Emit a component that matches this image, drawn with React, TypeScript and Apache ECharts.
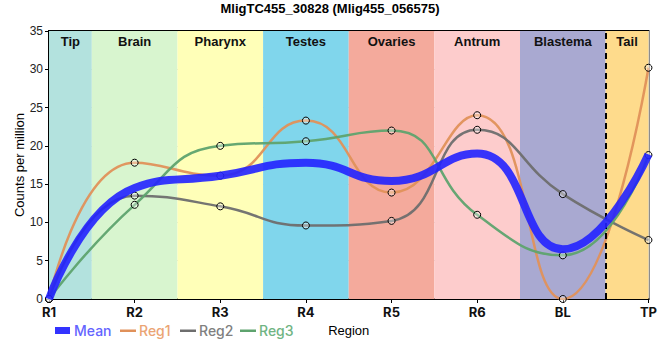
import React, { useEffect, useRef } from "react";
import * as echarts from "echarts";

const categories = ["R1", "R2", "R3", "R4", "R5", "R6", "BL", "TP"];
const reg1 = [0, 17.8, 16.1, 23.3, 13.9, 24.0, 0, 30.2];
const reg2 = [0, 13.5, 12.1, 9.6, 10.2, 22.1, 13.7, 7.7];
const reg3 = [0, 12.3, 20.0, 20.6, 22.0, 11.0, 5.7, 18.8];
const mean = [0, 14.5, 16.1, 17.8, 15.4, 19.0, 6.5, 18.9];
const regions = ["Tip", "Brain", "Pharynx", "Testes", "Ovaries", "Antrum", "Blastema", "Tail"];
const regionStart = [0, 0.5, 1.5, 2.5, 3.5, 4.5, 5.5, 6.5];
const regionEnd = [0.5, 1.5, 2.5, 3.5, 4.5, 5.5, 6.5, 7];
const regionColors = ["#b3e2de", "#d8f5cf", "#ffffb8", "#80d6ec", "#f4aa9c", "#fdcccc", "#a9a9d1", "#fedb8c"];
const seriesNames = ["Mean", "Reg1", "Reg2", "Reg3"];
const seriesColors = ["#2222ff", "#e0915a", "#6e6e6e", "#5ea36e"];
const legendTextColors = ["#6464ff", "#eba474", "#808080", "#70b483"];

const toPts = (arr: number[]) => arr.map((v, i) => [i, v]);

export default function App() {
  const ref = useRef<HTMLDivElement>(null);
  useEffect(() => {
    if (!ref.current) return;
    const chart = echarts.init(ref.current, null, { renderer: "svg" });
    const marker = {
      symbol: "circle",
      symbolSize: 7,
      showSymbol: true,
      itemStyle: { color: "rgba(255,255,255,0.35)", borderColor: "#000", borderWidth: 1 },
    };
    const legendX = [55, 120, 180, 240];
    const legendGraphics: any[] = [];
    seriesNames.forEach((n, i) => {
      if (i === 0) {
        legendGraphics.push({ type: "rect", left: legendX[i], top: 327, shape: { width: 15, height: 7 }, style: { fill: "#3333ff" } });
      } else {
        legendGraphics.push({ type: "rect", left: legendX[i], top: 329.5, shape: { width: 16, height: 2.5 }, style: { fill: seriesColors[i] } });
      }
      legendGraphics.push({
        type: "text",
        left: legendX[i] + 19,
        top: 323.5,
        style: { text: n, fill: legendTextColors[i], font: "500 14px Inter" },
      });
    });
    chart.setOption({
      animation: false,
      title: {
        text: "MligTC455_30828 (Mlig455_056575)",
        left: "center",
        top: 2,
        padding: 0,
        textStyle: { fontFamily: "Liberation Sans", fontSize: 13, fontWeight: "bold", color: "#000" },
      },
      graphic: legendGraphics,
      grid: { left: 49, right: 10, top: 31, bottom: 61, show: true, borderColor: "#000", borderWidth: 2, backgroundColor: "transparent" },
      xAxis: {
        type: "value",
        min: 0,
        max: 7,
        interval: 1,
        name: "Region",
        nameLocation: "middle",
        nameGap: 25,
        nameMoveOverlap: false,
        nameTextStyle: { fontFamily: "Liberation Sans", fontSize: 13, color: "#000" },
        axisLine: { show: true, lineStyle: { color: "#000", width: 2 } },
        axisTick: { show: true, length: 4, lineStyle: { color: "#000" } },
        axisLabel: {
          formatter: (v: number) => categories[v] ?? "",
          fontFamily: "Inter",
          fontSize: 13,
          fontWeight: "bold",
          color: "#111",
          margin: 6,
        },
        splitLine: { show: true, lineStyle: { color: "#cccccc", width: 1 } },
      },
      yAxis: {
        type: "value",
        min: 0,
        max: 35,
        interval: 5,
        name: "Counts per million",
        nameLocation: "middle",
        nameGap: 23,
        nameMoveOverlap: false,
        nameTextStyle: { fontFamily: "Liberation Sans", fontSize: 13, color: "#000" },
        axisLine: { show: true, lineStyle: { color: "#000", width: 2 } },
        axisTick: { show: true, length: 4, lineStyle: { color: "#000" } },
        axisLabel: { fontFamily: "Liberation Sans", fontSize: 12, color: "#222", margin: 6 },
        splitLine: { show: true, lineStyle: { color: "#cccccc", width: 1 } },
      },
      series: [
        {
          name: "Mean",
          type: "line",
          data: toPts(mean),
          smooth: 0.5,
          showSymbol: false,
          symbol: "none",
          z: 5,
          lineStyle: { color: seriesColors[0], width: 8, opacity: 0.9 },
          itemStyle: { color: "#3333ff" },
          markArea: {
            silent: true,
            data: regions.map((r, i) => [
              {
                name: r,
                xAxis: regionStart[i],
                yAxis: 35,
                itemStyle: { color: regionColors[i] },
                label: {
                  show: true,
                  position: "insideTop",
                  distance: 4,
                  fontFamily: "Liberation Sans",
                  fontSize: 13,
                  fontWeight: "bold",
                  color: "#111",
                },
              },
              { xAxis: regionEnd[i], yAxis: 0 },
            ]),
          },
          markLine: {
            silent: true,
            symbol: "none",
            label: { show: false },
            lineStyle: { color: "#000", type: [6, 4], width: 2 },
            data: [{ xAxis: 6.5 }],
          },
        },
        ...[reg1, reg2, reg3].map((arr, k) => ({
          name: seriesNames[k + 1],
          type: "line",
          data: toPts(arr),
          smooth: 0.5,
          ...marker,
          z: 3,
          lineStyle: { color: seriesColors[k + 1], width: 2.5, opacity: 0.95 },
        })),
      ],
    });
    return () => chart.dispose();
  }, []);
  return <div ref={ref} style={{ width: 660, height: 360, position: "absolute", left: 0, top: 0 }} />;
}
